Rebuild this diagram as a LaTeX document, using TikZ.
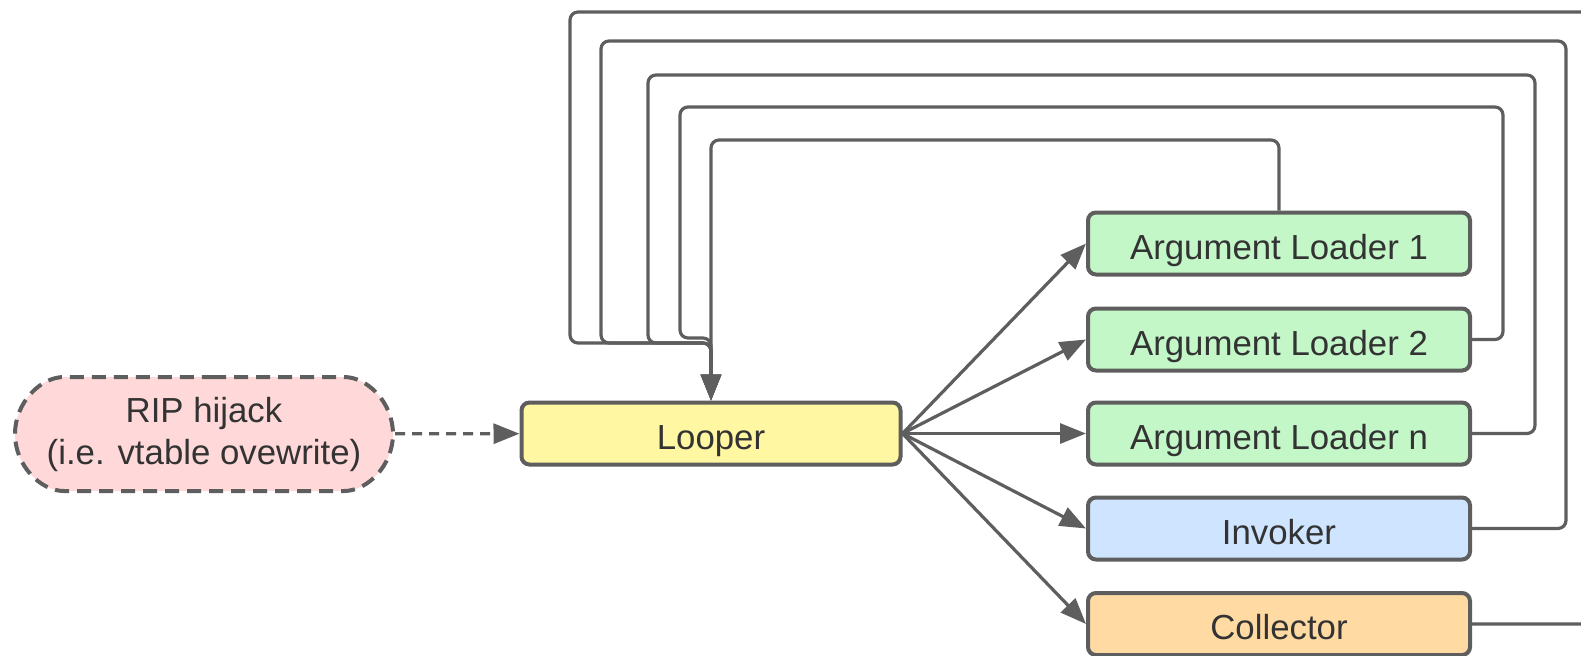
\documentclass[tikz,border=0pt]{standalone}
\usepackage{fontspec}
\setmainfont{Liberation Sans}
\usetikzlibrary{shapes.misc,arrows.meta}
\definecolor{lc}{HTML}{5E5E5E}
\definecolor{tc}{HTML}{333333}
\definecolor{gfill}{HTML}{C3F7C8}
\definecolor{yfill}{HTML}{FFF7A1}
\definecolor{bfill}{HTML}{CFE4FF}
\definecolor{ofill}{HTML}{FFDBA3}
\definecolor{pfill}{HTML}{FFD9D9}
\tikzset{
  box/.style={draw=lc, line width=2pt, rounded corners=4pt, minimum height=31pt, text=tc,
    font=\fontsize{17.4}{21}\selectfont, inner sep=0pt, align=center},
  onebox/.style={box, text height=15.5pt, text depth=0pt},
  rbox/.style={onebox, minimum width=191pt},
  conn/.style={draw=lc, line width=1.6pt, -{Triangle[length=13pt,width=10pt]}},
  loopline/.style={conn, rounded corners=4pt},
}
\begin{document}
\begin{tikzpicture}[x=0.5pt,y=-0.5pt]
\useasboundingbox (0,0) rectangle (1581,655);
\fill[white] (0,0) rectangle (1581,655);
\begin{scope}
\clip (0,0) rectangle (1581,655);
\node[box, rounded rectangle, dashed, dash pattern=on 7pt off 4pt, fill=pfill, minimum width=189pt, minimum height=57pt] (rip) at (204,434) {RIP hijack\\(i.e. vtable ovewrite)};
\node[onebox, fill=yfill, minimum width=189.5pt] (looper) at (711,433.5) {Looper};
\node[rbox, fill=gfill] (al1) at (1279,243.5) {Argument Loader 1};
\node[rbox, fill=gfill] (al2) at (1279,339.5) {Argument Loader 2};
\node[rbox, fill=gfill] (aln) at (1279,433.5) {Argument Loader n};
\node[rbox, fill=bfill] (inv) at (1279,528.5) {Invoker};
\node[rbox, fill=ofill] (col) at (1279,624) {Collector};

\draw[conn, dashed, dash pattern=on 5pt off 3.5pt] (rip) -- (looper);
\foreach \t in {al1,al2,aln,inv,col}
  \draw[conn] (looper.east) -- (\t.west);

\draw[loopline] (col.east) -- (1640,624) -- (1640,12) -- (570,12) -- (570,343) -- (looper.north |- 0,343) -- (looper.north);
\draw[loopline] (inv.east) -- (1566,528.5) -- (1566,41) -- (601,41) -- (601,343) -- (looper.north |- 0,343) -- (looper.north);
\draw[loopline] (aln.east) -- (1535,433.5) -- (1535,75) -- (648,75) -- (648,343) -- (looper.north |- 0,343) -- (looper.north);
\draw[loopline] (al2.east) -- (1503,339.5) -- (1503,107) -- (680,107) -- (680,338) -- (looper.north |- 0,338) -- (looper.north);
\draw[loopline] (al1.north) -- (al1.north |- 0,140) -- (looper.north |- 0,140) -- (looper.north);
\end{scope}
\end{tikzpicture}
\end{document}
